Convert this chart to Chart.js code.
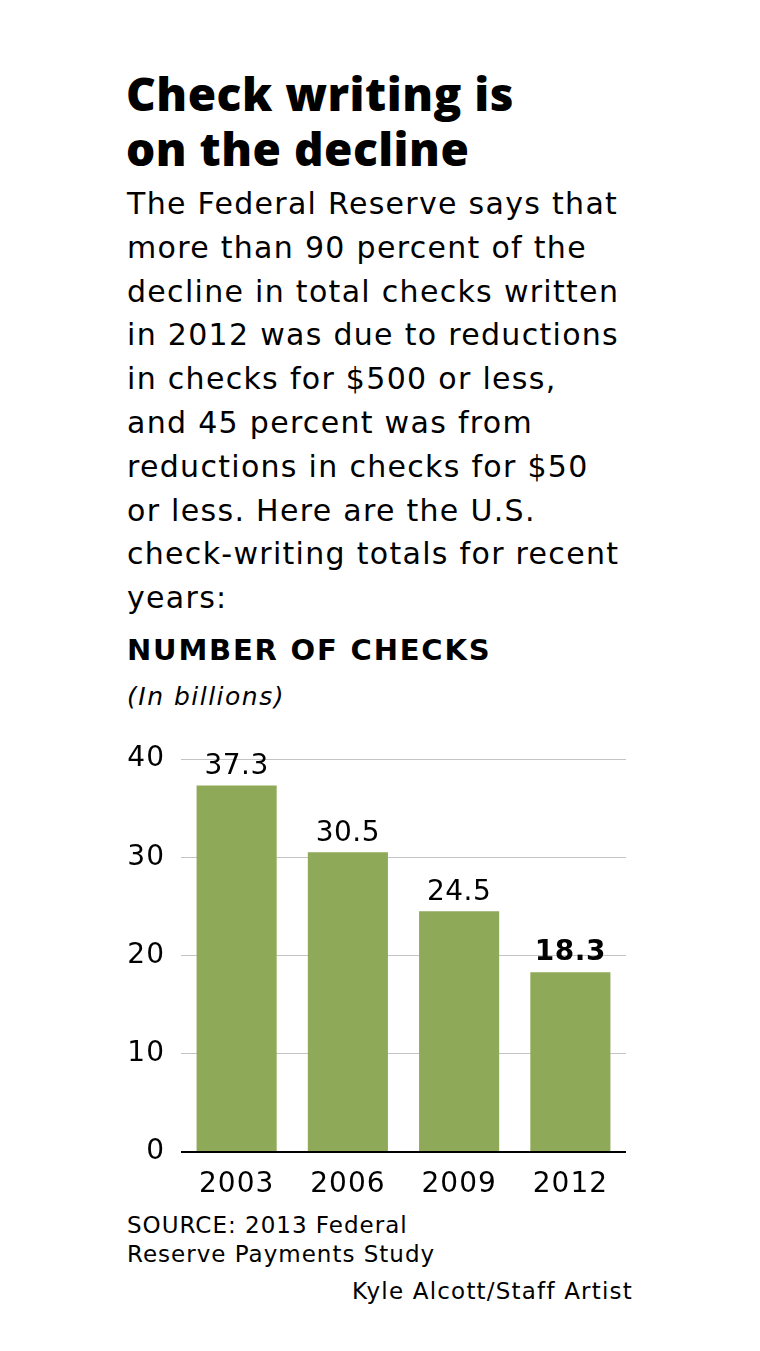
<!DOCTYPE html>
<html>
<head>
<meta charset="utf-8">
<script src="https://cdn.jsdelivr.net/npm/chart.js@4"></script>
<style>
  body { margin: 0; background: #fff; font-family: "DejaVu Sans", sans-serif; color: #000; }
  .wrap { position: relative; width: 760px; height: 1351px; }
  h1 { position: absolute; left: 126px; top: 66px; margin: 0; font-family: "Open Sans", sans-serif; font-size: 46px; line-height: 55px; font-weight: 800; letter-spacing: 0.5px; }
  .intro { position: absolute; left: 127px; top: 182px; margin: 0; font-size: 30px; line-height: 43.8px; letter-spacing: 1.3px; white-space: nowrap; }
  .head { position: absolute; left: 127px; top: 633px; margin: 0; font-size: 29px; font-weight: 700; letter-spacing: 1.8px; }
  .unit { position: absolute; left: 127px; top: 682px; margin: 0; font-size: 25px; font-style: italic; letter-spacing: 1.5px; }
  .chartbox { position: absolute; left: 0; top: 720px; width: 760px; height: 490px; }
  .source { position: absolute; left: 127px; top: 1211px; margin: 0; font-size: 23px; line-height: 29px; letter-spacing: 1px; }
  .credit { position: absolute; right: 127px; top: 1278px; margin: 0; font-size: 23px; letter-spacing: 1.2px; }
</style>
</head>
<body>
<div class="wrap">
  <h1>Check writing is<br>on the decline</h1>
  <p class="intro">The Federal Reserve says that<br>more than 90 percent of the<br>decline in total checks written<br>in 2012 was due to reductions<br>in checks for $500 or less,<br>and 45 percent was from<br>reductions in checks for $50<br>or less. Here are the U.S.<br>check-writing totals for recent<br>years:</p>
  <p class="head">NUMBER OF CHECKS</p>
  <p class="unit">(In billions)</p>
  <div class="chartbox"><canvas id="chart"></canvas></div>
  <p class="source">SOURCE: 2013 Federal<br>Reserve Payments Study</p>
  <p class="credit">Kyle Alcott/Staff Artist</p>
</div>
<script>
const years = ["2003", "2006", "2009", "2012"];
const checks = [37.3, 30.5, 24.5, 18.3];
const yTicks = [0, 10, 20, 30, 40];

const font = "'DejaVu Sans', sans-serif";

// slightly wider tick text
const spacing = {
  id: "spacing",
  beforeUpdate(chart) { chart.ctx.letterSpacing = "1px"; },
  beforeDraw(chart) { chart.ctx.letterSpacing = "1px"; }
};

// value labels above each bar, last one bold
const barLabels = {
  id: "barLabels",
  afterDatasetsDraw(chart) {
    const ctx = chart.ctx;
    const meta = chart.getDatasetMeta(0);
    ctx.save();
    ctx.letterSpacing = "0.5px";
    ctx.fillStyle = "#000";
    ctx.textAlign = "center";
    ctx.textBaseline = "bottom";
    meta.data.forEach(function (bar, i) {
      const last = i === checks.length - 1;
      ctx.font = (last ? "bold " : "") + "28px " + font;
      ctx.fillText(checks[i].toFixed(1), bar.x, bar.y - 5);
    });
    ctx.restore();
  }
};

new Chart(document.getElementById("chart"), {
  type: "bar",
  data: {
    labels: years,
    datasets: [{
      data: checks,
      backgroundColor: "#8ea957",
      borderWidth: 0,
      categoryPercentage: 0.72,
      barPercentage: 1
    }]
  },
  options: {
    responsive: true,
    maintainAspectRatio: false,
    animation: false,
    events: [],
    layout: { padding: { left: 0, right: 134, top: 39, bottom: 0 } },
    plugins: { legend: { display: false }, tooltip: { enabled: false } },
    scales: {
      x: {
        grid: { display: false },
        border: { display: false },
        ticks: { color: "#000", font: { family: font, size: 28 }, padding: 8 },
        afterFit: function (s) { s.height = 58; }
      },
      y: {
        min: 0,
        max: 40,
        afterBuildTicks: function (s) { s.ticks = yTicks.map(v => ({ value: v })); },
        grid: {
          color: c => c.tick && c.tick.value === 0 ? "#000" : "#c4c4c4",
          lineWidth: c => c.tick && c.tick.value === 0 ? 2 : 1,
          drawTicks: false
        },
        border: { display: false },
        ticks: { color: "#000", font: { family: font, size: 28 }, padding: 16 },
        afterFit: function (s) { s.width = 181; }
      }
    }
  },
  plugins: [spacing, barLabels]
});
</script>
</body>
</html>
